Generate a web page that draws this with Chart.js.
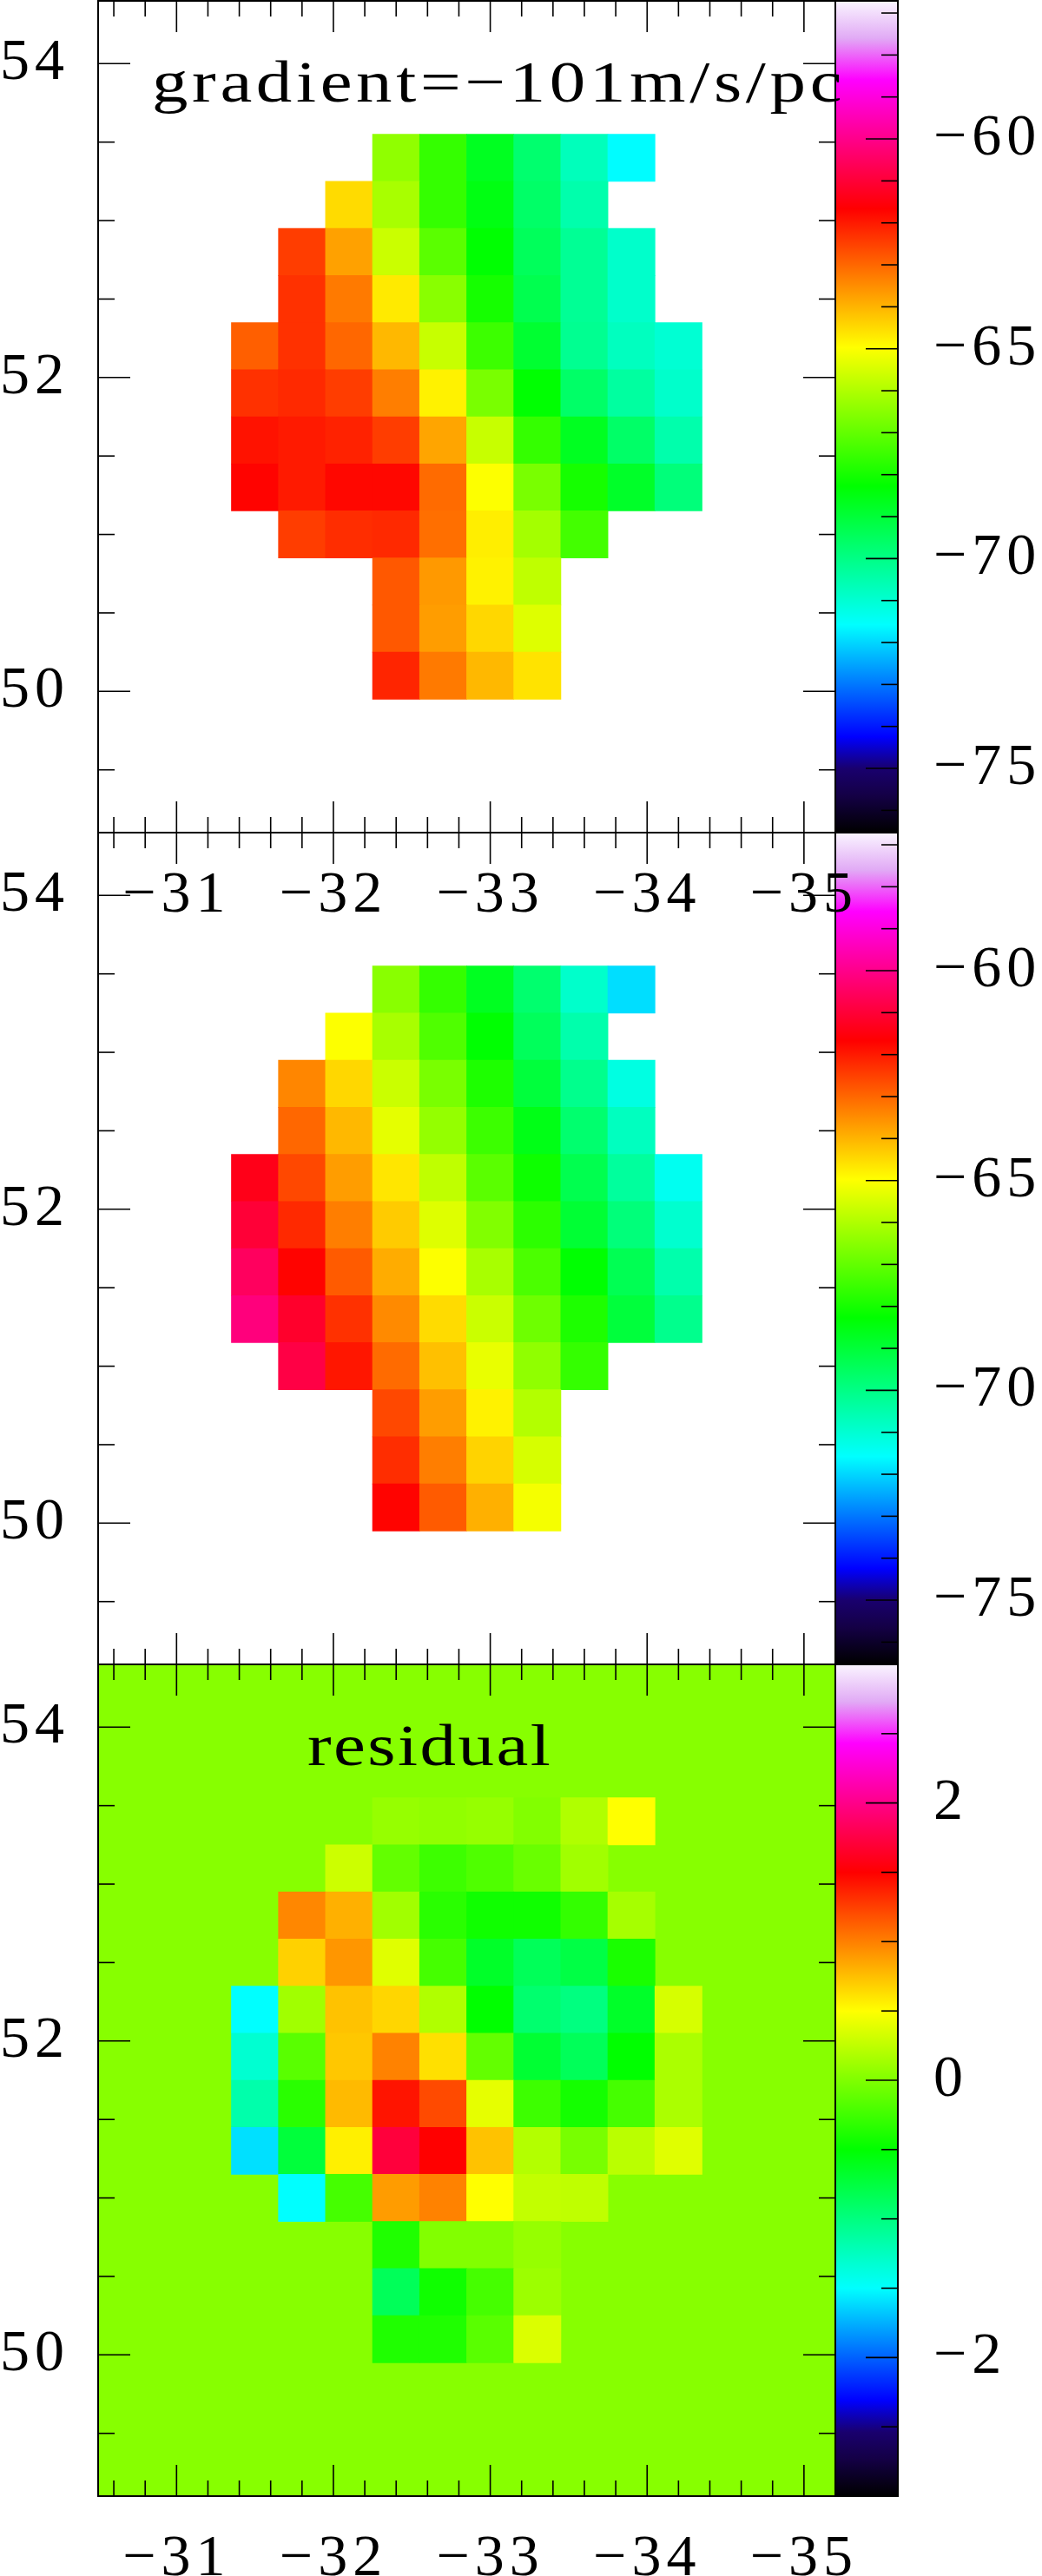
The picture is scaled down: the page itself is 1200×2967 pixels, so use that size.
<!DOCTYPE html>
<html>
<head>
<meta charset="utf-8">
<title>velocity gradient</title>
<script src="https://cdn.jsdelivr.net/npm/chart.js@4/dist/chart.umd.js"></script>
<style>
  html, body { margin: 0; padding: 0; background: #fff; }
  body { position: relative; width: 1200px; height: 2967px; overflow: hidden; }
  canvas { position: absolute; }
</style>
</head>
<body>
<canvas id="panel2"></canvas>
<canvas id="bar1"></canvas>
<canvas id="bar2"></canvas>
<canvas id="bar3"></canvas>
<canvas id="panel3"></canvas>
<canvas id="panel1"></canvas>
<script>
// cell centres
const xCenters = [-31.5, -31.8, -32.1, -32.4, -32.7, -33.0, -33.3, -33.6, -33.9, -34.2];
const yCenters = [53.4, 53.1, 52.8, 52.5, 52.2, 51.9, 51.6, 51.3, 51.0, 50.7, 50.4, 50.1];
const cellSize = 0.3;

// one row per yCenters entry
const observed = [
  [null, null, null, -66.4, -67.6, -68.7, -69.7, -70.7, -71.6, null],
  [null, null, -64.5, -66.1, -67.6, -68.5, -69.6, -70.5, null, null],
  [null, -62.45, -63.75, -65.65, -67.1, -68.3, -69.45, -70.2, -70.9, null],
  [null, -62.3, -63.25, -64.7, -66.5, -68.0, -69.3, -70.2, -70.9, null],
  [-62.9, -62.3, -63.0, -64.05, -65.7, -67.5, -68.9, -70.15, -70.75, -71.0],
  [-62.3, -62.2, -62.45, -63.3, -64.8, -66.7, -68.3, -69.6, -70.35, -70.9],
  [-61.9, -62.0, -62.1, -62.45, -63.8, -65.7, -67.6, -68.7, -69.6, -70.5],
  [-61.7, -62.0, -61.75, -61.75, -63.05, -65.0, -66.7, -68.0, -68.8, -69.85],
  [null, -62.45, -62.25, -62.2, -63.1, -64.75, -66.15, -67.4, null, null],
  [null, null, null, -62.8, -63.65, -64.8, -65.8, null, null, null],
  [null, null, null, -62.8, -63.7, -64.45, -65.4, null, null, null],
  [null, null, null, -62.15, -63.25, -64.05, -64.6, null, null, null]
];
const model = [
  [null, null, null, -66.5, -67.6, -68.7, -69.7, -70.9, -71.92, null],
  [null, null, -65.0, -66.1, -67.25, -68.3, -69.45, -70.5, null, null],
  [null, -63.4, -64.45, -65.65, -66.7, -67.9, -69.05, -70.1, -71.2, null],
  [null, -63.0, -64.05, -65.3, -66.35, -67.5, -68.55, -69.7, -70.75, null],
  [-61.38, -62.6, -63.7, -64.65, -65.8, -67.1, -68.1, -69.3, -70.3, -71.4],
  [-61.0, -62.2, -63.3, -64.3, -65.4, -66.6, -67.7, -68.95, -69.85, -70.95],
  [-60.53, -61.7, -62.85, -63.9, -65.0, -66.1, -67.3, -68.3, -69.35, -70.5],
  [-60.17, -61.14, -62.3, -63.45, -64.5, -65.65, -66.85, -67.9, -69.05, -70.1],
  [null, -60.83, -61.95, -63.05, -64.15, -65.25, -66.4, -67.6, null, null],
  [null, null, null, -62.6, -63.7, -64.8, -65.95, null, null, null],
  [null, null, null, -62.25, -63.3, -64.4, -65.5, null, null, null],
  [null, null, null, -61.7, -62.85, -63.95, -65.1, null, null, null]
];
const residual = [
  [null, null, null, 0.09, 0.07, 0.09, 0.01, 0.19, 0.5, null],
  [null, null, 0.3, -0.11, -0.26, -0.19, -0.09, 0.13, null, null],
  [null, 0.97, 0.81, 0.13, -0.34, -0.44, -0.44, -0.3, 0.15, null],
  [null, 0.68, 0.91, 0.38, -0.23, -0.66, -0.85, -0.77, -0.4, null],
  [-1.5, 0.13, 0.74, 0.66, 0.19, -0.5, -0.93, -1.0, -0.66, 0.34],
  [-1.32, -0.15, 0.72, 0.99, 0.62, -0.11, -0.7, -0.85, -0.5, 0.17],
  [-1.17, -0.34, 0.77, 1.42, 1.21, 0.4, -0.26, -0.42, -0.23, 0.17],
  [-1.6, -0.73, 0.56, 1.72, 1.5, 0.74, 0.2, -0.03, 0.23, 0.38],
  [null, -1.5, -0.23, 0.89, 0.99, 0.5, 0.26, 0.25, null, null],
  [null, null, null, -0.38, 0.01, 0.01, 0.09, null, null, null],
  [null, null, null, -0.85, -0.44, -0.23, 0.11, null, null, null],
  [null, null, null, -0.38, -0.38, -0.15, 0.36, null, null, null]
];
const residualBackground = 0.03;

// axes
const xMajor = [-31, -32, -33, -34, -35];
const xMinor = [-30.6, -30.8, -31.2, -31.4, -31.6, -31.8, -32.2, -32.4, -32.6, -32.8, -33.2, -33.4, -33.6, -33.8, -34.2, -34.4, -34.6, -34.8];
const yMajor = [54, 52, 50];
const yMinor = [53.5, 53, 52.5, 51.5, 51, 50.5, 49.5];
const velMajor = [-60, -65, -70, -75];
const velMinor = [-57, -58, -59, -61, -62, -63, -64, -66, -67, -68, -69, -71, -72, -73, -74, -76];
const resMajor = [2, 0, -2];
const resMinor = [2.5, 1.5, 1, 0.5, -0.5, -1, -1.5, -2.5];
const velRange = [-76.53, -56.71];
const resRange = [-3, 3];

// colour table, position along the bar and rgb
const cmapPos = [0, 0.045, 0.077, 0.115, 0.25, 0.4167, 0.5833, 0.75, 0.905, 0.955, 1];
const cmapRgb = [
  [0, 0, 0], [20, 0, 70], [25, 0, 110], [0, 0, 255], [0, 255, 255], [0, 255, 0],
  [255, 255, 0], [255, 0, 0], [255, 0, 255], [225, 170, 245], [250, 245, 255]
];

const FONT = { family: '"Liberation Serif"', size: 68 };
const TOP_PAD = 10;      // canvas starts this far above the frame
const AXIS_H = 122;      // room under the frame for the x labels
const AREA_H = 958;
const AREA_W = 849;

function colorFor(v, range) {
  const t = Math.min(1, Math.max(0, (v - range[0]) / (range[1] - range[0])));
  let i = 1;
  while (i < cmapPos.length - 1 && cmapPos[i] < t) i++;
  const f = (t - cmapPos[i - 1]) / (cmapPos[i] - cmapPos[i - 1]);
  const c = cmapRgb[i - 1].map((a, k) => Math.round(a + (cmapRgb[i][k] - a) * f));
  return `rgb(${c[0]},${c[1]},${c[2]})`;
}

function cellsFrom(grid) {
  const cells = [];
  grid.forEach((row, r) => row.forEach((v, c) => {
    if (v === null) return;
    cells.push({ x: xCenters[c], y: [yCenters[r] - cellSize / 2, yCenters[r] + cellSize / 2], v: v });
  }));
  return cells;
}

function tickLabel(v) {
  return v < 0 ? '\u2212' + Math.abs(v) : String(v);
}

function line(ctx, x1, y1, x2, y2) {
  ctx.beginPath();
  ctx.moveTo(x1, y1);
  ctx.lineTo(x2, y2);
  ctx.stroke();
}

// Chart.js only draws ticks outward and of one length, so these go on by hand
const mapDecor = {
  id: 'mapDecor',
  beforeDraw(chart) {
    chart.ctx.letterSpacing = '6px';
  },
  beforeDatasetsDraw(chart, args, opts) {
    if (opts.background === undefined) return;
    const a = chart.chartArea;
    chart.ctx.fillStyle = colorFor(opts.background, resRange);
    chart.ctx.fillRect(a.left, a.top, a.right - a.left, a.bottom - a.top);
  },
  afterDraw(chart, args, opts) {
    const ctx = chart.ctx, a = chart.chartArea;
    const sx = chart.scales.x, sy = chart.scales.y;
    ctx.save();
    ctx.strokeStyle = '#000';
    ctx.lineWidth = 1.6;
    const xt = (list, len) => list.forEach(v => {
      const p = sx.getPixelForValue(v);
      line(ctx, p, a.top, p, a.top + len);
      line(ctx, p, a.bottom, p, a.bottom - len);
    });
    const yt = (list, len) => list.forEach(v => {
      const p = sy.getPixelForValue(v);
      line(ctx, a.left, p, a.left + len, p);
      line(ctx, a.right, p, a.right - len, p);
    });
    xt(xMajor, 36); xt(xMinor, 18);
    yt(yMajor, 37); yt(yMinor, 19);
    ctx.lineWidth = 2;
    ctx.strokeRect(a.left, a.top, a.right - a.left, a.bottom - a.top);
    if (opts.note) {
      ctx.translate(opts.noteX, a.top + 116);
      ctx.scale(1.22, 1);
      ctx.letterSpacing = opts.noteSpacing + 'px';
      ctx.font = '68px "Liberation Serif"';
      ctx.fillStyle = '#000';
      ctx.textAlign = 'left';
      ctx.textBaseline = 'alphabetic';
      ctx.fillText(opts.note, 0, 0);
    }
    ctx.restore();
  }
};

const barDecor = {
  id: 'barDecor',
  beforeDraw(chart) {
    chart.ctx.letterSpacing = '6px';
  },
  afterDraw(chart, args, opts) {
    const ctx = chart.ctx, a = chart.chartArea, sy = chart.scales.y;
    ctx.save();
    ctx.strokeStyle = '#000';
    ctx.lineWidth = 1.6;
    opts.major.forEach(v => { const p = sy.getPixelForValue(v); line(ctx, a.right, p, a.right - 37, p); });
    opts.minor.forEach(v => { const p = sy.getPixelForValue(v); line(ctx, a.right, p, a.right - 19, p); });
    ctx.lineWidth = 2;
    ctx.strokeRect(a.left, a.top, a.right - a.left, a.bottom - a.top);
    ctx.restore();
  }
};

function place(id, left, top, w, h) {
  const c = document.getElementById(id);
  c.width = w; c.height = h;
  c.style.left = left + 'px'; c.style.top = top + 'px';
  c.style.width = w + 'px'; c.style.height = h + 'px';
  return c;
}

function mapChart(id, areaTop, grid, range, decor) {
  const canvasH = TOP_PAD + AREA_H + AXIS_H;
  const canvas = place(id, 0, areaTop - TOP_PAD, 1034, canvasH);
  const cells = cellsFrom(grid);
  return new Chart(canvas, {
    type: 'bar',
    plugins: [mapDecor],
    data: {
      datasets: [{
        data: cells,
        backgroundColor: cells.map(c => colorFor(c.v, range)),
        barThickness: 54.3
      }]
    },
    options: {
      responsive: false,
      animation: false,
      devicePixelRatio: 1,
      layout: { padding: { top: TOP_PAD, right: 1034 - 113 - AREA_W, left: 0, bottom: 0 } },
      plugins: { legend: { display: false }, tooltip: { enabled: false }, mapDecor: decor },
      scales: {
        x: {
          type: 'linear', reverse: true, min: -35.2, max: -30.5, offset: false,
          grid: { display: false, offset: false }, border: { display: false },
          afterBuildTicks: s => { s.ticks = xMajor.map(v => ({ value: v })); },
          afterFit: s => { s.height = AXIS_H; s.paddingLeft = 0; s.paddingRight = 0; },
          ticks: { font: FONT, color: '#000', padding: 24, maxRotation: 0, minRotation: 0, autoSkip: false, callback: tickLabel }
        },
        y: {
          type: 'linear', min: 49.1, max: 54.4, beginAtZero: false,
          grid: { display: false }, border: { display: false },
          afterBuildTicks: s => { s.ticks = yMajor.map(v => ({ value: v })); },
          afterFit: s => { s.width = 113; s.paddingTop = 0; s.paddingBottom = 0; },
          ticks: { font: FONT, color: '#000', padding: 25, autoSkip: false, callback: tickLabel }
        }
      }
    }
  });
}

function barChart(id, areaTop, range, major, minor) {
  const canvas = place(id, 962, areaTop - TOP_PAD, 238, TOP_PAD + AREA_H + 40);
  return new Chart(canvas, {
    type: 'bar',
    plugins: [barDecor],
    data: {
      labels: ['scale'],
      datasets: [{
        data: [range],
        barPercentage: 1,
        categoryPercentage: 1,
        backgroundColor: ctx => {
          const chart = ctx.chart;
          if (!chart.chartArea) return '#000';
          const sy = chart.scales.y;
          const g = chart.ctx.createLinearGradient(0, sy.getPixelForValue(range[0]), 0, sy.getPixelForValue(range[1]));
          cmapPos.forEach((p, i) => g.addColorStop(p, `rgb(${cmapRgb[i].join(',')})`));
          return g;
        }
      }]
    },
    options: {
      responsive: false,
      animation: false,
      devicePixelRatio: 1,
      layout: { padding: { top: TOP_PAD, bottom: 40, left: 0, right: 0 } },
      plugins: { legend: { display: false }, tooltip: { enabled: false }, barDecor: { major: major, minor: minor } },
      scales: {
        x: { type: 'category', display: false },
        y: {
          type: 'linear', position: 'right', min: range[0], max: range[1], beginAtZero: false,
          grid: { display: false }, border: { display: false },
          afterBuildTicks: s => { s.ticks = major.map(v => ({ value: v })); },
          afterFit: s => { s.width = 238 - 72; s.paddingTop = 0; s.paddingBottom = 0; },
          ticks: { font: FONT, color: '#000', padding: 33, autoSkip: false, callback: tickLabel }
        }
      }
    }
  });
}

barChart('bar1', 1, velRange, velMajor, velMinor);
barChart('bar2', 959, velRange, velMajor, velMinor);
barChart('bar3', 1917, resRange, resMajor, resMinor);
mapChart('panel2', 959, model, velRange, {});
mapChart('panel3', 1917, residual, resRange, { background: residualBackground, note: 'residual', noteX: 354, noteSpacing: 2 });
mapChart('panel1', 1, observed, velRange, { note: 'gradient=\u2212101m/s/pc', noteX: 175, noteSpacing: 3.8 });
</script>
</body>
</html>
